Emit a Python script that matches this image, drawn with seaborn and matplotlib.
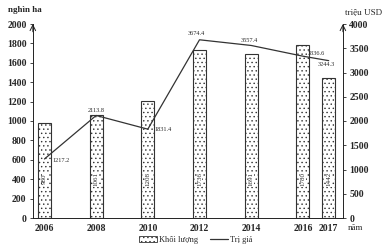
import matplotlib
matplotlib.use('Agg')
import matplotlib.pyplot as plt
import seaborn as sns
import pandas as pd
from matplotlib.patches import Patch
from matplotlib.lines import Line2D

sns.set_style('white')
plt.rcParams['font.family'] = ['Liberation Serif', 'DejaVu Serif']
plt.rcParams['hatch.color'] = '#666666'
plt.rcParams['hatch.linewidth'] = 0.5

years = [2006, 2008, 2010, 2012, 2014, 2016, 2017]
area = [980, 1061, 1208, 1736, 1691, 1780, 1442]
value = [1217.2, 2113.8, 1831.4, 3674.4, 3557.4, 3336.6, 3244.3]
value_labels = ['1217.2', '2113.8', '1831.4', '3674.4', '3557.4', '3336.6', '3244.3']
# offsets of value labels (points), label centred vertically
label_offsets = [(6, -1, 'left'), (0, 3.6, 'center'), (5, 0, 'left'), (-2, 4.3, 'center'),
                 (-1, 3.6, 'center'), (3.5, 2, 'left'), (-1.5, -3, 'center')]

df = pd.DataFrame({'year': years, 'area': area, 'value': value})

fig = plt.figure(figsize=(3.91, 2.5), dpi=100)
ax = fig.add_axes([0.084, 0.128, 0.793, 0.776])

sns.barplot(data=df, x='year', y='area', native_scale=True, width=0.5,
            color='white', edgecolor='#333333', linewidth=0.8, hatch='....',
            ax=ax, zorder=2)
for x, a in zip(years, area):
    ax.text(x, 400, str(a), rotation=90, ha='center', va='center', fontsize=5,
            bbox=dict(facecolor='white', edgecolor='none', pad=0.3), zorder=3)

ax.set_xlim(2005.55, 2017.55)
ax.set_ylim(0, 2000)
ax.set_yticks(range(0, 2001, 200))
ax.set_xticks(years)
ax.set_xticks([2005.55 + k for k in range(13)], minor=True)
ax.tick_params(axis='x', which='major', length=0, labelsize=7, pad=4)
ax.tick_params(axis='x', which='minor', length=3, direction='inout', width=0.6)
ax.tick_params(axis='y', length=2.5, width=0.6, labelsize=7, pad=2, left=True)
for lbl in ax.get_xticklabels() + ax.get_yticklabels():
    lbl.set_fontweight('bold')
ax.set_xlabel('')
ax.set_ylabel('')
for s in ['top', 'right']:
    ax.spines[s].set_visible(False)
for s in ['left', 'bottom']:
    ax.spines[s].set_linewidth(0.7)
    ax.spines[s].set_color('#222222')

ax2 = ax.twinx()
sns.lineplot(data=df, x='year', y='value', color='#333333', linewidth=0.9, ax=ax2)
ax2.set_ylim(0, 4000)
ax2.set_yticks(range(0, 4001, 500))
ax2.tick_params(axis='y', length=2.5, width=0.6, labelsize=7, pad=2, right=True)
for lbl in ax2.get_yticklabels():
    lbl.set_fontweight('bold')
ax2.set_xlabel('')
ax2.set_ylabel('')
for s in ['top', 'left', 'bottom']:
    ax2.spines[s].set_visible(False)
ax2.spines['right'].set_linewidth(0.7)
ax2.spines['right'].set_color('#222222')
ax2.set_xlim(2005.55, 2017.55)

for x, v, t, (dx, dy, ha) in zip(years, value, value_labels, label_offsets):
    ax2.annotate(t, (x, v), xytext=(dx, dy), textcoords='offset points',
                 ha=ha, va='center', fontsize=4.5)

for xa in [0, 1]:
    ax.annotate('', xy=(xa, 1.0), xytext=(xa, 0.96), xycoords='axes fraction',
                arrowprops=dict(arrowstyle='->', lw=0.7, color='#222222',
                                shrinkA=0, shrinkB=0))

fig.text(0.064, 0.962, 'nghìn ha', ha='center', va='center', fontsize=6.5, fontweight='bold')
fig.text(0.93, 0.952, 'triệu USD', ha='center', va='center', fontsize=6.5)
fig.text(0.91, 0.088, 'năm', ha='center', va='center', fontsize=6.5)

handles = [Patch(facecolor='white', edgecolor='#333333', hatch='....', linewidth=0.6),
           Line2D([0], [0], color='#333333', lw=0.9)]
fig.legend(handles, ['Khối lượng', 'Trị giá'], loc='center', bbox_to_anchor=(0.5, 0.04),
           ncol=2, frameon=False, fontsize=6, handlelength=2.2, handleheight=0.7,
           handletextpad=0.2, columnspacing=1.5)

fig.savefig('out.png', dpi=100)
